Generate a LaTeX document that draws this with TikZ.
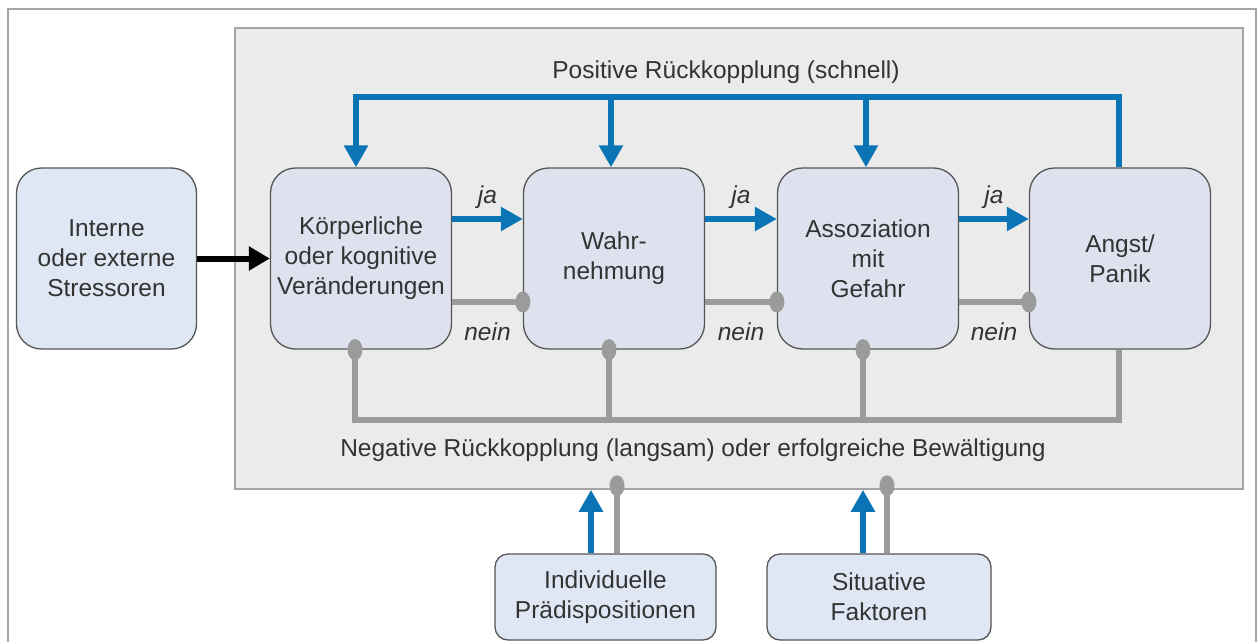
\documentclass[tikz,border=0pt]{standalone}
\usepackage{fontspec}
\setmainfont{Liberation Sans}
\usetikzlibrary{arrows.meta,calc}
\definecolor{fbblue}{HTML}{0A74B5}
\definecolor{fbgray}{HTML}{9B9B9B}
\definecolor{panelfill}{HTML}{EBEBEB}
\definecolor{panelline}{HTML}{A5A5A5}
\definecolor{boxfill}{HTML}{DEE2EE}
\definecolor{boxfillb}{HTML}{DFE7F5}
\definecolor{boxline}{HTML}{555555}
\definecolor{txt}{HTML}{333333}
\begin{document}
\begin{tikzpicture}[x=1pt,y=-1pt,
  txtfont/.style={font=\fontsize{24.5}{30}\selectfont, text=txt},
  mainbox/.style={draw=boxline, line width=1.3pt, fill=boxfill, rounded corners=25pt,
    minimum width=181pt, minimum height=181pt, inner sep=0pt, align=center, txtfont},
  sidebox/.style={mainbox, fill=boxfillb, minimum width=180pt},
  lowbox/.style={draw=boxline, line width=1.3pt, fill=boxfillb, rounded corners=13pt,
    minimum height=86pt, inner sep=0pt, align=center, txtfont},
  bluearrow/.style={draw=fbblue, line width=6pt, line join=miter,
    -{Triangle[width=23pt,length=22pt]}},
  blackarrow/.style={draw=black, line width=6pt, -{Triangle[width=23pt,length=21pt]}},
  grayline/.style={draw=fbgray, line width=6pt, line join=miter},
  lbl/.style={txtfont, font=\fontsize{24.5}{30}\selectfont\itshape}
]
\useasboundingbox (0,0) rectangle (1258,642);
\fill[white] (0,0) rectangle (1258,642);
% outer frame
\draw[panelline, line width=1.5pt] (8,660) -- (8,9) -- (1256,9) -- (1256,660);
% panel
\node[draw=panelline, line width=1.6pt, fill=panelfill, minimum width=1008pt,
  minimum height=461pt, inner sep=0pt] (panel) at (739,258.5) {};

% boxes
\node[sidebox] (int) at (106.5,258.5) {Interne\\oder externe\\Stressoren};
\node[mainbox] (kor) at (361,258.5) {Körperliche\\oder kognitive\\Veränderungen};
\node[mainbox] (wah) at (614,258.5) {Wahr-\\nehmung};
\node[mainbox] (ass) at (868,258.5) {Assoziation\\mit\\Gefahr};
\node[mainbox] (ang) at (1120,258.5) {Angst/\\Panik};
\node[lowbox, minimum width=221pt] (ind) at (605.5,597) {Individuelle\\Prädispositionen};
\node[lowbox, minimum width=224pt] (sit) at (879,597) {Situative\\Faktoren};

% labels
\node[txtfont] (pos) at (726,72) {Positive Rückkopplung (schnell)};
\node[txtfont] (neg) at (693,450) {Negative Rückkopplung (langsam) oder erfolgreiche Bewältigung};

% coordinates
\coordinate (top) at (700,97);
\coordinate (bot) at (700,420);
\coordinate (kt) at ([xshift=-5pt]kor.north);
\coordinate (wt) at ([xshift=-3pt]wah.north);
\coordinate (at) at ([xshift=-2pt]ass.north);
\coordinate (gt) at ([xshift=-1pt]ang.north);
\coordinate (kb) at ([xshift=-6pt]kor.south);
\coordinate (wb) at ([xshift=-5pt]wah.south);
\coordinate (ab) at ([xshift=-5pt]ass.south);
\coordinate (gb) at ([xshift=-1pt]ang.south);

% positive feedback
\draw[bluearrow] (gt) |- (top) -| (kt);
\draw[bluearrow] (wt |- top) -- (wt);
\draw[bluearrow] (at |- top) -- (at);

% ja arrows
\draw[bluearrow] ([yshift=39.5pt]kor.east) -- ([yshift=39.5pt]wah.west)
  node[midway, above=4pt, lbl] {ja};
\draw[bluearrow] ([yshift=39.5pt]wah.east) -- ([yshift=39.5pt]ass.west)
  node[midway, above=4pt, lbl] {ja};
\draw[bluearrow] ([yshift=39.5pt]ass.east) -- ([yshift=39.5pt]ang.west)
  node[midway, above=4pt, lbl] {ja};

% nein lines
\draw[grayline] ([yshift=-43.5pt]kor.east) -- ([yshift=-43.5pt]wah.west)
  node[midway, below=14pt, lbl] {nein};
\draw[grayline] ([yshift=-43.5pt]wah.east) -- ([yshift=-43.5pt]ass.west)
  node[midway, below=14pt, lbl] {nein};
\draw[grayline] ([yshift=-43.5pt]ass.east) -- ([yshift=-43.5pt]ang.west)
  node[midway, below=14pt, lbl] {nein};
\foreach \n in {wah,ass,ang}
  \fill[fbgray] ([yshift=-43.5pt]\n.west) ellipse [x radius=7.5pt, y radius=10.5pt];

% negative feedback
\draw[grayline] (kb) |- (bot) -| (gb);
\draw[grayline] (wb) -- (wb |- bot);
\draw[grayline] (ab) -- (ab |- bot);
\foreach \c in {kb,wb,ab}
  \fill[fbgray] (\c) ellipse [x radius=7.5pt, y radius=10.5pt];

% black input arrow
\draw[blackarrow] (int.east) -- (kor.west);

% bottom influences
\coordinate (ib) at ([xshift=-14.5pt]ind.north);
\coordinate (ig) at ([xshift=11.5pt]ind.north);
\coordinate (sb) at ([xshift=-16pt]sit.north);
\coordinate (sg) at ([xshift=8pt]sit.north);
\draw[bluearrow] (ib) -- (ib |- panel.south);
\draw[bluearrow] (sb) -- (sb |- panel.south);
\draw[grayline] (ig) -- ([yshift=4pt]ig |- panel.south);
\draw[grayline] (sg) -- ([yshift=4pt]sg |- panel.south);
\fill[fbgray] ([yshift=4pt]ig |- panel.south) ellipse [x radius=7.5pt, y radius=10.5pt];
\fill[fbgray] ([yshift=4pt]sg |- panel.south) ellipse [x radius=7.5pt, y radius=10.5pt];
\end{tikzpicture}
\end{document}
